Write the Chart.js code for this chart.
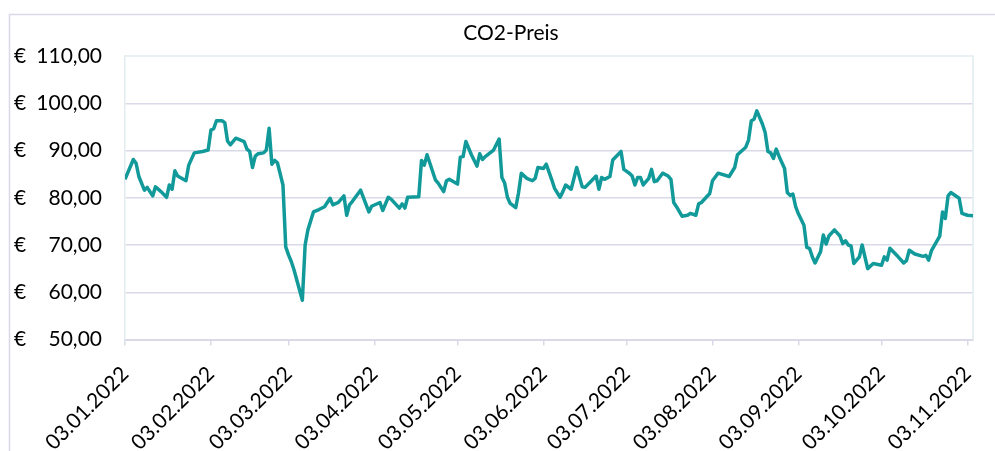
<!DOCTYPE html>
<html lang="de">
<head>
<meta charset="UTF-8">
<title>CO2-Preis</title>
<script src="https://cdn.jsdelivr.net/npm/chart.js@4/dist/chart.umd.min.js"></script>
<style>
  body { margin: 0; background: #fff; }
</style>
</head>
<body>
<canvas id="chart" width="995" height="451"></canvas>
<script>
// CO2-Preis 2022, Werte (Euro)
const year = 2022;
const chartTitle = 'CO2-Preis';

const dates = [
  '03.01','06.01','07.01','08.01','10.01','11.01','13.01','14.01','16.01','18.01',
  '19.01','20.01','21.01','22.01','25.01','26.01','28.01','31.01','02.02','03.02',
  '04.02','05.02','07.02','08.02','09.02','10.02','12.02','15.02','16.02','17.02',
  '18.02','19.02','20.02','22.02','23.02','24.02','25.02','26.02','27.02','01.03',
  '02.03','03.03','04.03','05.03','08.03','09.03','10.03','12.03','14.03','16.03',
  '18.03','19.03','21.03','23.03','24.03','25.03','26.03','29.03','01.04','02.04',
  '05.04','06.04','08.04','09.04','12.04','13.04','14.04','15.04','19.04','20.04',
  '21.04','22.04','25.04','26.04','28.04','29.04','30.04','03.05','04.05','05.05',
  '06.05','08.05','10.05','11.05','12.05','13.05','16.05','18.05','19.05','20.05',
  '21.05','22.05','24.05','25.05','26.05','28.05','30.05','31.05','01.06','03.06',
  '04.06','06.06','07.06','09.06','10.06','11.06','13.06','15.06','17.06','18.06',
  '20.06','22.06','23.06','24.06','25.06','27.06','28.06','01.07','02.07','04.07',
  '05.07','06.07','07.07','08.07','09.07','11.07','12.07','13.07','14.07','16.07',
  '18.07','19.07','20.07','21.07','23.07','25.07','26.07','28.07','29.07','30.07',
  '02.08','03.08','05.08','09.08','11.08','12.08','15.08','16.08','17.08','18.08',
  '19.08','21.08','22.08','23.08','24.08','25.08','26.08','27.08','29.08','30.08',
  '31.08','01.09','02.09','03.09','05.09','06.09','07.09','08.09','09.09','11.09',
  '12.09','13.09','14.09','16.09','18.09','19.09','20.09','21.09','22.09','23.09',
  '25.09','26.09','28.09','30.09','03.10','04.10','05.10','06.10','09.10','11.10',
  '12.10','13.10','15.10','18.10','19.10','20.10','21.10','24.10','25.10','26.10',
  '27.10','28.10','31.10','01.11','03.11','05.11'
];

const prices = [
  83.9, 88.1, 87.3, 84.5, 81.6, 82.2, 80.4, 82.3, 81.3, 80.1,
  82.7, 81.8, 85.7, 84.6, 83.6, 86.9, 89.5, 89.8, 90.1, 94.3,
  94.6, 96.3, 96.3, 95.9, 92.0, 91.2, 92.6, 91.9, 90.3, 89.8,
  86.4, 88.8, 89.3, 89.5, 90.1, 94.7, 87.1, 87.9, 87.4, 82.7,
  69.6, 67.9, 66.5, 64.7, 58.3, 70.0, 73.2, 77.0, 77.5, 78.1,
  79.9, 78.5, 79.0, 80.4, 76.3, 78.5, 79.2, 81.6, 77.0, 78.2,
  79.0, 77.3, 80.1, 79.7, 77.8, 78.7, 77.8, 80.1, 80.2, 87.9,
  86.9, 89.1, 83.8, 83.1, 81.3, 83.6, 83.9, 82.9, 88.6, 88.7,
  91.9, 89.1, 86.7, 89.3, 88.1, 88.7, 90.1, 92.4, 84.3, 83.1,
  80.1, 78.8, 77.9, 81.0, 85.2, 84.1, 83.6, 84.1, 86.4, 86.2,
  87.1, 83.8, 82.0, 80.1, 81.3, 82.7, 81.8, 86.4, 82.3, 82.2,
  83.4, 84.6, 81.8, 84.3, 83.9, 84.5, 88.0, 89.8, 86.0, 85.2,
  84.6, 82.7, 84.3, 84.3, 82.7, 84.1, 86.0, 83.4, 83.6, 85.2,
  84.6, 83.9, 79.0, 78.1, 76.1, 76.3, 76.7, 76.3, 78.7, 79.0,
  80.9, 83.6, 85.2, 84.5, 86.4, 89.1, 90.7, 92.2, 96.3, 96.6,
  98.4, 95.6, 93.8, 89.8, 89.5, 88.3, 90.3, 88.8, 86.2, 81.1,
  80.5, 80.8, 78.1, 76.6, 74.2, 69.5, 69.3, 67.5, 66.2, 68.6,
  72.1, 70.2, 71.9, 73.2, 71.9, 70.3, 70.9, 70.0, 69.8, 66.1,
  67.5, 70.0, 65.0, 66.1, 65.7, 67.5, 66.8, 69.3, 67.5, 66.2,
  66.7, 68.9, 68.1, 67.6, 67.8, 66.8, 68.8, 71.9, 77.0, 75.6,
  80.4, 81.1, 79.9, 76.7, 76.3, 76.2
];

const tickLabels = [
  '03.01.2022','03.02.2022','03.03.2022','03.04.2022','03.05.2022','03.06.2022',
  '03.07.2022','03.08.2022','03.09.2022','03.10.2022','03.11.2022'
];

const fontFamily = 'Lato, "Open Sans", sans-serif';
const lavender = '#d9d9e8';
const paleBlue = '#e1ebf0';

// Tage seit dem 03.01.2022
function dayOf(s) {
  const [d, m, y] = s.split('.').map(Number);
  return (Date.UTC(y || year, m - 1, d) - Date.UTC(year, 0, 3)) / 864e5;
}

const points = dates.map((d, i) => ({ x: dayOf(d), y: prices[i] }));
const tickDays = tickLabels.map(dayOf);
const lastDay = points[points.length - 1].x;

// Rahmen, Plotfläche oben/rechts und Titel (wie im Excel-Diagramm)
const frame = {
  id: 'frame',
  beforeDraw(chart) {
    const c = chart.ctx;
    c.save();
    c.fillStyle = '#fff';
    c.fillRect(0, 0, chart.width, chart.height);
    c.strokeStyle = lavender;
    c.lineWidth = 1.5;
    c.strokeRect(9.5, 14.5, chart.width + 20, chart.height + 20);
    c.restore();
  },
  beforeDatasetsDraw(chart) {
    const a = chart.chartArea;
    const c = chart.ctx;
    c.save();
    c.strokeStyle = paleBlue;
    c.lineWidth = 1.5;
    c.beginPath();
    c.moveTo(a.left, a.top);
    c.lineTo(a.right, a.top);
    c.lineTo(a.right, a.bottom);
    c.stroke();
    c.restore();
  },
  afterDraw(chart) {
    const c = chart.ctx;
    c.save();
    c.fillStyle = '#000';
    c.font = '21px ' + fontFamily;
    c.textAlign = 'center';
    c.textBaseline = 'middle';
    c.fillText(chartTitle, 511, 33);
    c.restore();
  }
};

const ctx = document.getElementById('chart').getContext('2d');
new Chart(ctx, {
  type: 'line',
  data: {
    datasets: [{
      label: chartTitle,
      data: points,
      borderColor: '#129a9a',
      borderWidth: 3.5,
      pointRadius: 0,
      tension: 0,
      borderJoinStyle: 'round',
      fill: false
    }]
  },
  options: {
    responsive: false,
    animation: false,
    layout: { padding: { left: 14, right: 22, top: 56, bottom: 0 } },
    plugins: {
      legend: { display: false },
      tooltip: { enabled: false }
    },
    scales: {
      x: {
        type: 'linear',
        min: 0,
        max: lastDay,
        afterBuildTicks(scale) {
          scale.ticks = tickDays.map(v => ({ value: v }));
        },
        afterFit(scale) {
          scale.height = 111.5;
          scale.paddingLeft = 0;
          scale.paddingRight = 0;
        },
        ticks: {
          autoSkip: false,
          minRotation: 45,
          maxRotation: 45,
          padding: 16,
          color: '#000',
          font: { family: fontFamily, size: 21 },
          callback: (v) => tickLabels[tickDays.indexOf(v)]
        },
        grid: {
          drawOnChartArea: false,
          drawTicks: true,
          tickLength: 6,
          color: lavender,
          lineWidth: 1.5
        },
        border: { color: lavender, width: 2 }
      },
      y: {
        position: 'left',
        weight: 0,
        min: 50,
        max: 110,
        afterFit(scale) { scale.width = 91; },
        ticks: {
          stepSize: 10,
          padding: 23,
          color: '#000',
          font: { family: fontFamily, size: 21 },
          callback: (v) => v.toFixed(2).replace('.', ',')
        },
        grid: {
          drawTicks: false,
          lineWidth: 1.5,
          color: (c) => (c.tick && (c.tick.value === 110 || c.tick.value === 50)) ? 'rgba(0,0,0,0)' : lavender
        },
        border: { color: paleBlue, width: 1.5 }
      },
      euro: {
        position: 'left',
        weight: 1,
        min: 50,
        max: 110,
        afterFit(scale) { scale.width = 20; },
        ticks: {
          stepSize: 10,
          crossAlign: 'far',
          color: '#000',
          font: { family: fontFamily, size: 21 },
          callback: () => '€'
        },
        grid: { display: false, drawTicks: false },
        border: { display: false }
      }
    }
  },
  plugins: [frame]
});
</script>
</body>
</html>
